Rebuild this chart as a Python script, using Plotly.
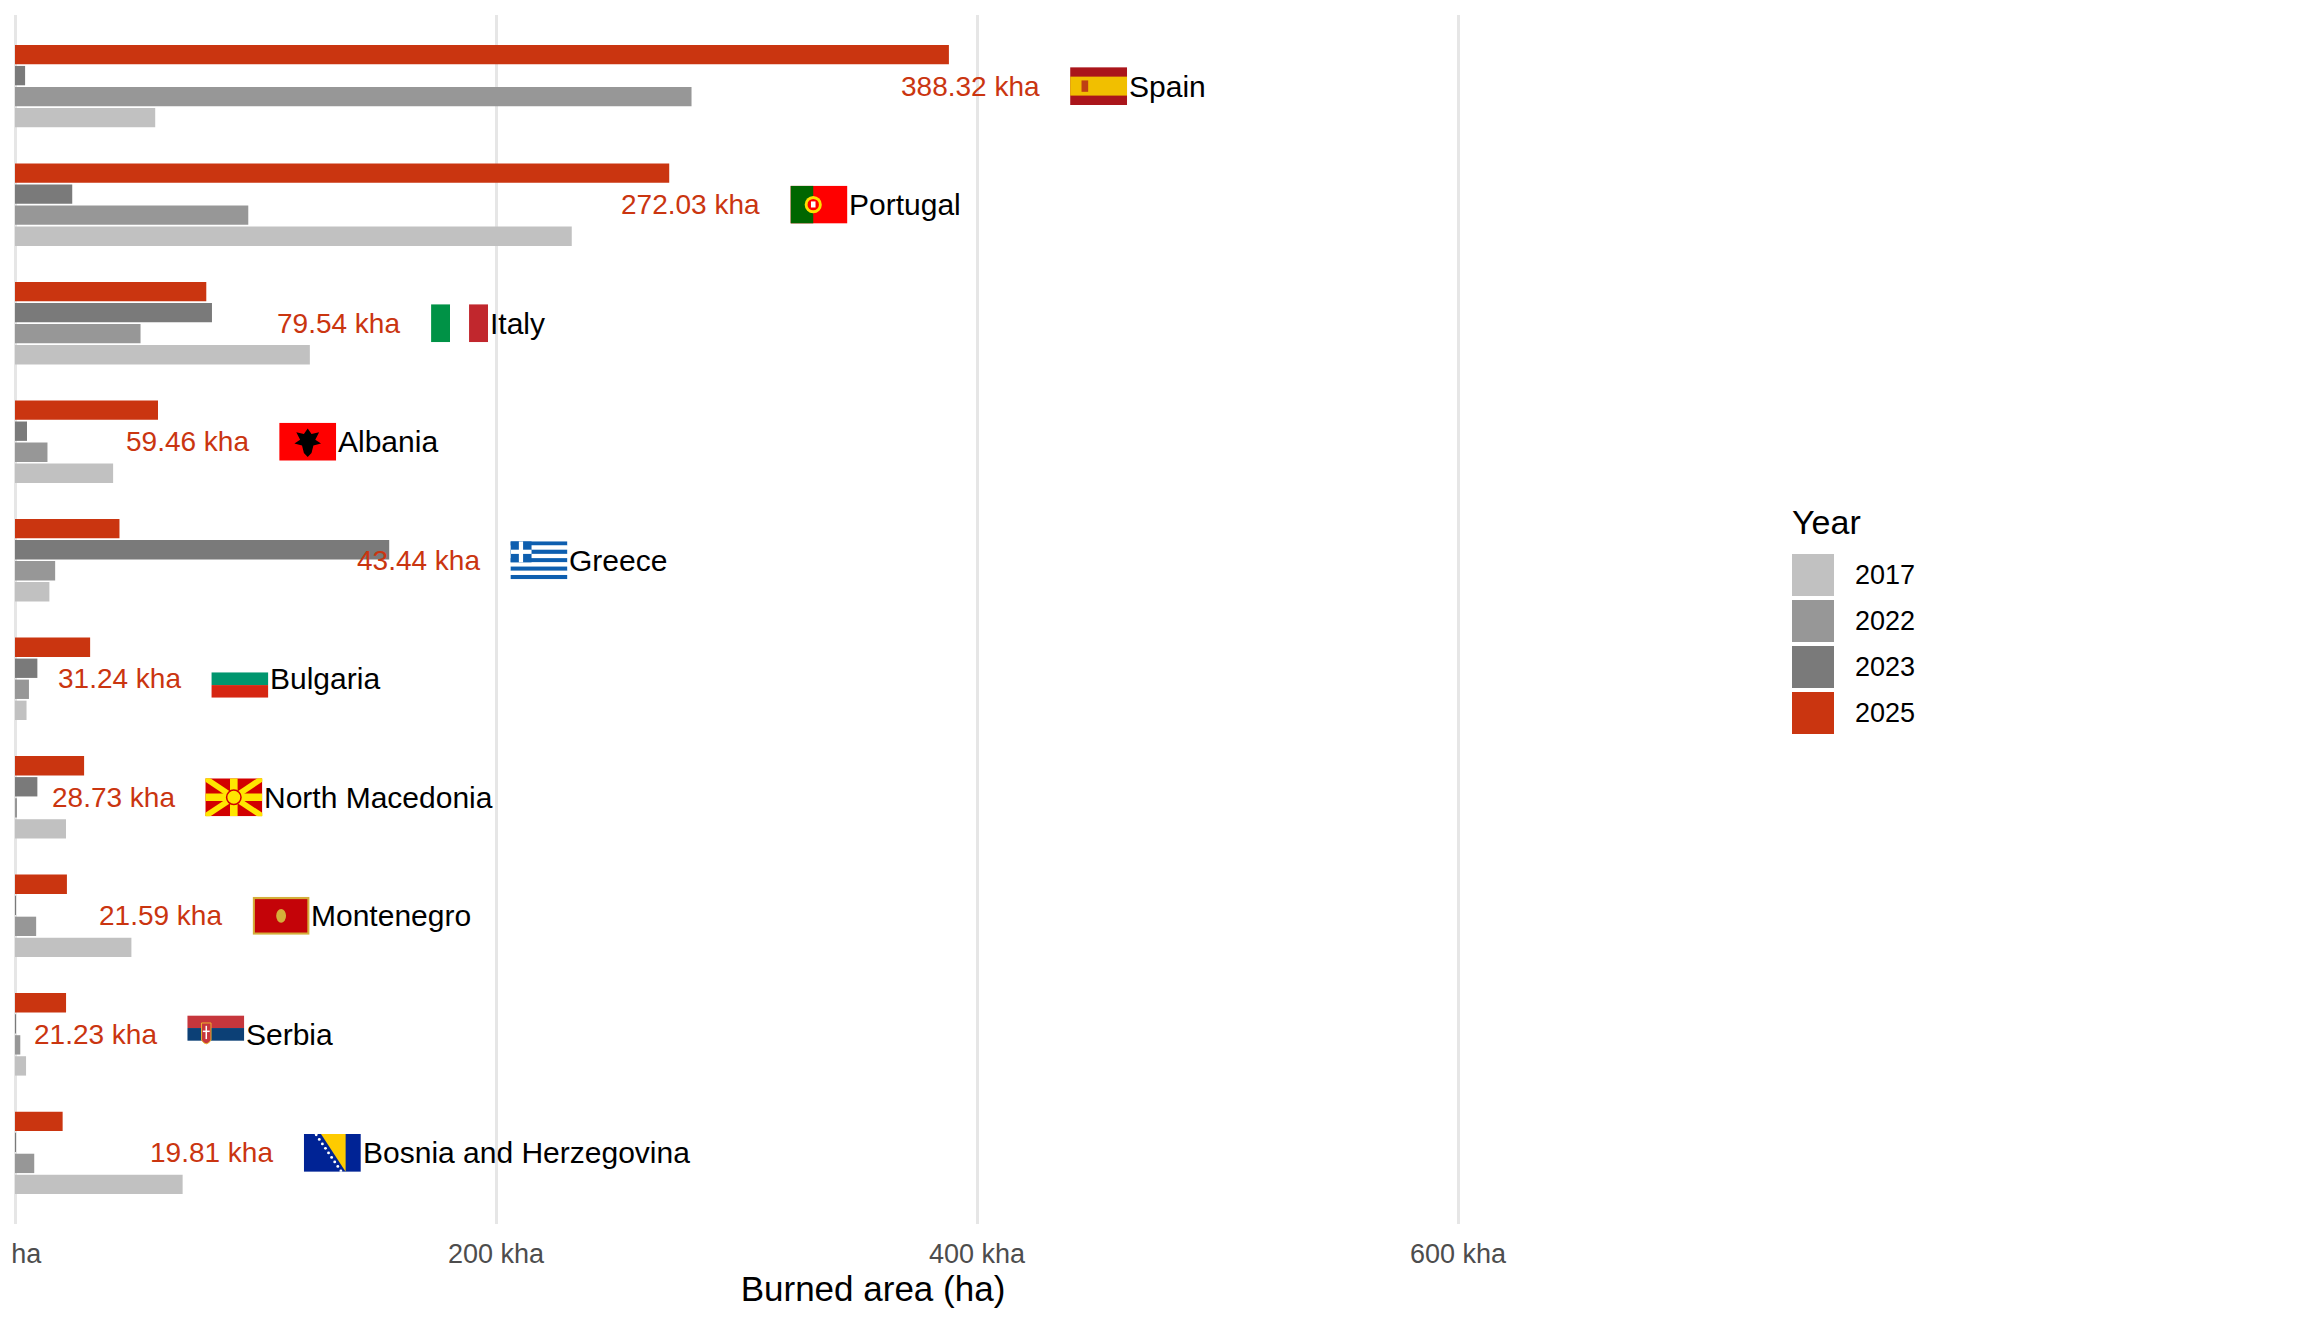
import base64
import plotly.graph_objects as go

# Burned area per country and year, in kha
countries = ["Spain", "Portugal", "Italy", "Albania", "Greece", "Bulgaria",
             "North Macedonia", "Montenegro", "Serbia", "Bosnia and Herzegovina"]
years = ["2017", "2022", "2023", "2025"]
area_2017 = [58.3, 231.5, 122.6, 40.8, 14.3, 4.8, 21.2, 48.4, 4.6, 69.7]
area_2022 = [281.3, 97.0, 52.2, 13.5, 16.7, 5.8, 0.8, 8.8, 2.2, 8.0]
area_2023 = [4.2, 23.8, 81.9, 5.0, 155.6, 9.3, 9.3, 0.3, 0.3, 0.3]
area_2025 = [388.32, 272.03, 79.54, 59.46, 43.44, 31.24, 28.73, 21.59, 21.23, 19.81]
tick_vals = [0, 200, 400, 600]
tick_text = ["0 ha", "200 kha", "400 kha", "600 kha"]

series = [area_2017, area_2022, area_2023, area_2025]
colors = ["#C1C1C1", "#979797", "#7A7A7A", "#CA3510"]
RED = "#CA3510"
FONT = "Liberation Sans, Arial, sans-serif"

# simple flag drawings (no network, so inline svg)
flags = {
    "Spain": '<rect width="30" height="20" fill="#AA151B"/><rect y="5" width="30" height="10" fill="#F1BF00"/>'
             '<rect x="6" y="7" width="3.5" height="6" fill="#AD1519" opacity="0.75"/>',
    "Portugal": '<rect width="30" height="20" fill="#FF0000"/><rect width="12" height="20" fill="#006600"/>'
                '<circle cx="12" cy="10" r="4.5" fill="#FFE000"/><circle cx="12" cy="10" r="3" fill="#FF0000"/>'
                '<rect x="10.8" y="8.3" width="2.4" height="3.2" fill="#FFFFFF"/>',
    "Italy": '<rect width="10" height="20" fill="#009246"/><rect x="10" width="10" height="20" fill="#FFFFFF"/>'
             '<rect x="20" width="10" height="20" fill="#C1272D"/>',
    "Albania": '<rect width="30" height="20" fill="#FF0000"/>'
               '<path d="M15 3 L17 6 L21 5 L19 9 L22 11 L18 12 L17 16 L15 18 L13 16 L12 12 L8 11 L11 9 L9 5 L13 6 Z" fill="#000"/>',
    "Greece": "".join('<rect y="%.3f" width="30" height="2.23" fill="%s"/>' % (i * 20 / 9, "#0D5EAF" if i % 2 == 0 else "#FFFFFF")
                      for i in range(9))
              + '<rect width="11.11" height="11.11" fill="#0D5EAF"/><rect y="4.44" width="11.11" height="2.22" fill="#FFF"/>'
                '<rect x="4.44" width="2.22" height="11.11" fill="#FFF"/>',
    "Bulgaria": '<rect width="30" height="20" fill="#FFFFFF"/><rect y="6.67" width="30" height="6.67" fill="#00966E"/>'
                '<rect y="13.33" width="30" height="6.67" fill="#D62612"/>',
    "North Macedonia": '<rect width="30" height="20" fill="#D20000"/>'
                       '<g stroke="#FFE600" stroke-width="3"><line x1="15" y1="10" x2="0" y2="0"/><line x1="15" y1="10" x2="30" y2="0"/>'
                       '<line x1="15" y1="10" x2="0" y2="20"/><line x1="15" y1="10" x2="30" y2="20"/></g>'
                       '<g stroke="#FFE600" stroke-width="4"><line x1="15" y1="10" x2="15" y2="0"/><line x1="15" y1="10" x2="15" y2="20"/>'
                       '<line x1="15" y1="10" x2="0" y2="10"/><line x1="15" y1="10" x2="30" y2="10"/></g>'
                       '<circle cx="15" cy="10" r="3.8" fill="#FFE600" stroke="#D20000" stroke-width="0.8"/>',
    "Montenegro": '<rect width="30" height="20" fill="#D4AF3A"/><rect x="1.2" y="1.2" width="27.6" height="17.6" fill="#C40308"/>'
                  '<ellipse cx="15" cy="10" rx="2.6" ry="3.6" fill="#D4AF3A"/>',
    "Serbia": '<rect width="30" height="20" fill="#FFFFFF"/><rect width="30" height="6.67" fill="#C6363C"/>'
              '<rect y="6.67" width="30" height="6.67" fill="#0C4076"/>'
              '<path d="M7.5 4 H12.5 V13 Q10 17 7.5 13 Z" fill="#C6363C" stroke="#EDB92E" stroke-width="0.5"/>'
              '<rect x="9.6" y="5.5" width="0.8" height="7" fill="#FFF"/><rect x="8.2" y="8" width="3.6" height="0.8" fill="#FFF"/>',
    "Bosnia and Herzegovina": '<rect width="30" height="20" fill="#002395"/><polygon points="9,0 22,0 22,20" fill="#FECB00"/>'
                              + "".join('<circle cx="%.2f" cy="%.2f" r="0.75" fill="#FFF"/>' % (6.5 + k * 13 / 8, 0.5 + k * 19 / 8)
                                        for k in range(9)),
}


def flag_uri(body):
    svg = ('<svg xmlns="http://www.w3.org/2000/svg" width="30" height="20" viewBox="0 0 30 20" '
           'preserveAspectRatio="none">' + body + '</svg>')
    return "data:image/svg+xml;base64," + base64.b64encode(svg.encode()).decode()


fig = go.Figure()
for yr, vals, col in zip(years, series, colors):
    fig.add_trace(go.Bar(y=countries, x=vals, orientation="h", name=yr,
                         marker=dict(color=col, line=dict(width=0)), showlegend=False))

order = countries[::-1]  # bottom to top
annotations = []
images = []
for i, c in enumerate(countries):
    top = max(s[i] for s in series)
    idx = order.index(c)
    annotations.append(dict(x=top + 38.5, y=c, xref="x", yref="y", text="%.2f kha" % area_2025[i],
                            showarrow=False, xanchor="right", yanchor="middle",
                            font=dict(family=FONT, size=28, color=RED)))
    annotations.append(dict(x=top + 74, y=c, xref="x", yref="y", text=c,
                            showarrow=False, xanchor="left", yanchor="middle",
                            font=dict(family=FONT, size=30, color="#000000")))
    images.append(dict(source=flag_uri(flags[c]), xref="x", yref="y", x=top + 50.4, y=idx + 0.16,
                       sizex=23.7, sizey=0.32, xanchor="left", yanchor="top",
                       sizing="stretch", layer="above"))

# page has an 8px body margin, so shift everything back by that
OFF = 8
W, H = 2304, 1344
ML, MR, MT, MB = 15 - OFF, 573 + OFF, 15 - OFF, 120 + OFF
pw, ph = W - ML - MR, H - MT - MB


def px(xp):
    return (xp - OFF - ML) / pw


def py(yp):
    return (H - MB - (yp - OFF)) / ph


# hand-drawn legend (big square keys like the reference)
shapes = []
annotations.append(dict(x=px(1790), y=py(522), xref="paper", yref="paper", text="Year", showarrow=False,
                        xanchor="left", yanchor="middle", font=dict(family=FONT, size=34, color="#000000")))
for k, (yr, col) in enumerate(zip(years, colors)):
    cy = 575 + 46 * k
    shapes.append(dict(type="rect", xref="paper", yref="paper", x0=px(1792), x1=px(1834),
                       y0=py(cy - 21), y1=py(cy + 21), fillcolor=col, line=dict(width=0)))
    annotations.append(dict(x=px(1853), y=py(cy), xref="paper", yref="paper", text=yr, showarrow=False,
                            xanchor="left", yanchor="middle", font=dict(family=FONT, size=27, color="#000000")))

fig.update_layout(
    width=W, height=H,
    margin=dict(l=ML, r=MR, t=MT, b=MB, autoexpand=False),
    plot_bgcolor="white", paper_bgcolor="white",
    barmode="group", bargap=0.29, bargroupgap=0.08,
    font=dict(family=FONT),
    annotations=annotations, images=images, shapes=shapes,
    showlegend=False,
    xaxis=dict(range=[0, pw / 2.405], tickvals=tick_vals, ticktext=tick_text,
               showgrid=True, gridcolor="#E6E6E6", gridwidth=3,
               zeroline=True, zerolinecolor="#E6E6E6", zerolinewidth=3,
               showline=False, ticks="", ticklabelstandoff=11, automargin=False,
               ticklabeloverflow="allow",
               tickfont=dict(family=FONT, size=27, color="#4D4D4D"),
               title=dict(text="Burned area (ha)", standoff=8,
                          font=dict(family=FONT, size=35, color="#000000"))),
    yaxis=dict(categoryorder="array", categoryarray=order, range=[-0.6, 9.6],
               showticklabels=False, showgrid=False, zeroline=False, ticks="", automargin=False),
)

fig.write_html("out.html")
